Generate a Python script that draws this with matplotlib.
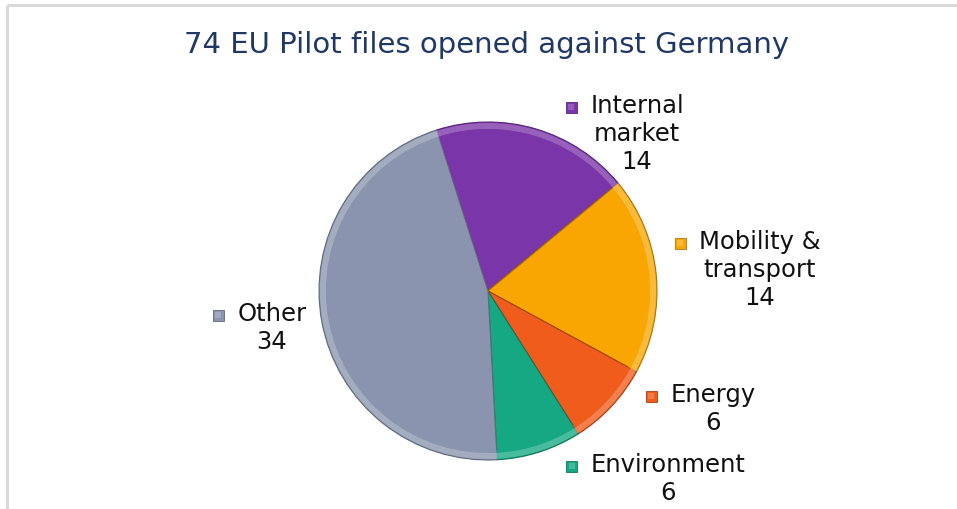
import matplotlib
matplotlib.use("Agg")
from matplotlib import pyplot as plt
from matplotlib.patches import Rectangle
import matplotlib.colors as mcolors
import numpy as np

W, H = 957, 509

title = "74 EU Pilot files opened against Germany"
categories = ["Internal\nmarket", "Mobility &\ntransport", "Energy", "Environment", "Other"]
counts = [14, 14, 6, 6, 34]
colors = ["#7A35A8", "#F9A602", "#F05C1C", "#16A883", "#8A94AE"]

# label anchors in pixel space (centre x, top y of the block)
label_pos = [(637, 94), (760, 230), (713, 383), (668, 453), (272, 302)]


def lighten(c, f):
    r, g, b = mcolors.to_rgb(c)
    return (r + (1 - r) * f, g + (1 - g) * f, b + (1 - b) * f)


def darken(c, f):
    r, g, b = mcolors.to_rgb(c)
    return (r * (1 - f), g * (1 - f), b * (1 - f))


fig = plt.figure(figsize=(W / 100, H / 100), dpi=100)
ax = fig.add_axes([0, 0, 1, 1])

cx, cy, R = 488, H - 291, 169
start = 90 + 17.7

wedges, _ = ax.pie(counts, colors=colors, startangle=start, counterclock=False,
                   center=(cx, cy), radius=R)

# outline each wedge with a darker tone of its own colour
for w, c in zip(wedges, colors):
    w.set_edgecolor(darken(c, 0.3))
    w.set_linewidth(0.8)

# bevelled rim
ax.pie(counts, colors=[lighten(c, 0.22) for c in colors], startangle=start,
       counterclock=False, center=(cx, cy), radius=R - 1,
       wedgeprops=dict(width=6, linewidth=0))
ax.pie(counts, colors=colors, startangle=start, counterclock=False,
       center=(cx, cy), radius=R - 7,
       wedgeprops=dict(width=3, linewidth=0, alpha=0.6))

ax.set_xlim(0, W)
ax.set_ylim(0, H)
ax.set_aspect("equal")
ax.axis("off")

# frame lines
ax.plot([7, W], [H - 5, H - 5], color="#D9D9D9", lw=2.2, solid_capstyle="butt")
ax.plot([7, 7], [0, H - 5], color="#D9D9D9", lw=2.2, solid_capstyle="butt")

ax.text(487, H - 45, title, ha="center", va="center", fontsize=21,
        color="#1F3864", family="DejaVu Sans")

renderer = fig.canvas.get_renderer()
for cat, n, c, (lx, ly) in zip(categories, counts, colors, label_pos):
    ax.text(lx, H - ly, f"{cat}\n{n}", ha="center", va="top", fontsize=17.5,
            color="#111111", linespacing=1.22)
    first = ax.text(lx, H - ly, cat.split("\n")[0], ha="center", va="top",
                    fontsize=17.5, alpha=0)
    bb = first.get_window_extent(renderer)
    mx = bb.x0 - 19
    my = (bb.y0 + bb.y1) / 2 - 1
    ax.add_patch(Rectangle((mx - 5.5, my - 5.5), 11, 11, facecolor=c,
                           edgecolor=darken(c, 0.3), lw=0.6))
    ax.add_patch(Rectangle((mx - 3, my - 3), 6, 6, facecolor=lighten(c, 0.2),
                           lw=0))

fig.savefig("out.png", dpi=100)
